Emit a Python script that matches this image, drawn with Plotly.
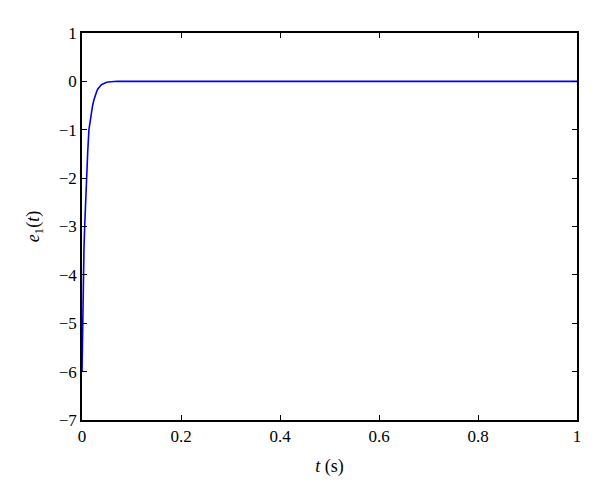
import plotly.graph_objects as go

t_values = [0, 0.0006, 0.0013, 0.002, 0.0027, 0.004, 0.0054, 0.007, 0.009, 0.0115,
            0.014, 0.0163, 0.0186, 0.021, 0.024, 0.026, 0.028, 0.030, 0.032, 0.035,
            0.038, 0.041, 0.044, 0.047, 0.05, 0.053, 0.056, 0.06, 0.065, 0.072, 0.08, 1.0]
e1_values = [-6, -5.5, -5, -4.5, -4, -3.45, -3, -2.5, -2, -1.47,
             -1, -0.82, -0.67, -0.52, -0.385, -0.31, -0.25, -0.2, -0.155, -0.11,
             -0.08, -0.058, -0.04, -0.028, -0.02, -0.013, -0.008, -0.004, -0.002, -0.0007, 0, 0]

x_ticks = [0, 0.2, 0.4, 0.6, 0.8, 1]
x_tick_labels = ["0", "0.2", "0.4", "0.6", "0.8", "1"]
y_ticks = [1, 0, -1, -2, -3, -4, -5, -6, -7]
y_tick_labels = ["1", "0", "−1", "−2", "−3", "−4", "−5", "−6", "−7"]

FONT = "Liberation Serif, DejaVu Serif, serif"

fig = go.Figure()
fig.add_trace(go.Scatter(x=t_values, y=e1_values, mode="lines",
                         line=dict(color="#0000ee", width=1.6),
                         showlegend=False))

axis_common = dict(showline=True, linecolor="black", linewidth=1.5, mirror="ticks",
                   ticks="inside", ticklen=5, tickwidth=1, tickcolor="black",
                   showgrid=False, zeroline=False,
                   tickfont=dict(family=FONT, size=17, color="black"))

fig.update_layout(
    width=592, height=494,
    margin=dict(l=74, r=23, t=25, b=82),
    paper_bgcolor="white", plot_bgcolor="white",
    xaxis=dict(range=[0, 1], tickvals=x_ticks, ticktext=x_tick_labels,
               title=dict(text="<i>t</i> (s)", standoff=14,
                          font=dict(family=FONT, size=18, color="black")),
               **axis_common),
    yaxis=dict(range=[-7, 1], tickvals=y_ticks, ticktext=y_tick_labels,
               title=dict(text="<i>e</i><sub>1</sub>(<i>t</i>)", standoff=14,
                          font=dict(family=FONT, size=18, color="black")),
               **axis_common),
)

fig.write_html("out.html")
